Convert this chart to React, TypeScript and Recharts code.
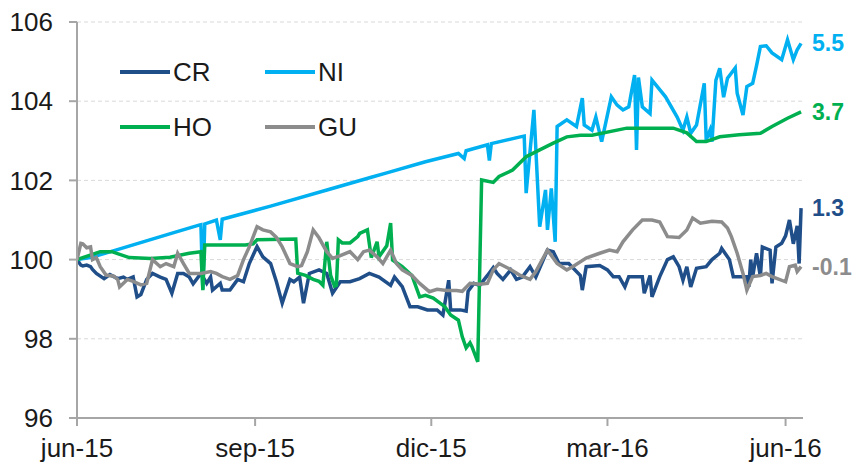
import { CartesianGrid, Legend, Line, LineChart, XAxis, YAxis } from 'recharts';

// day offsets from 1 Jun 2015
const X_TICKS = [0, 92, 183, 274, 366];
const X_TICK_LABELS = ['jun-15', 'sep-15', 'dic-15', 'mar-16', 'jun-16'];
const Y_TICKS = [96, 98, 100, 102, 104, 106];

const CR: [number, number][] = [
  [0, 100], [2, 99.86], [3, 99.84], [5, 99.86], [7, 99.82], [8, 99.75], [10, 99.65], [14, 99.52],
  [17, 99.62], [21, 99.52], [24, 99.56], [26, 99.5], [29, 99.56], [31, 99.06], [33, 99.12], [36, 99.5],
  [39, 99.65], [43, 99.56], [46, 99.5], [49, 99.15], [52, 99.65], [55, 99.65], [58, 99.56], [60, 99.39],
  [64, 99.65], [67, 99.4], [69, 99.56], [70, 99.23], [74, 99.4], [75, 99.23], [79, 99.23], [83, 99.5],
  [86, 99.44], [89, 99.9], [93, 100.33], [96, 100.07], [100, 99.9], [103, 99.44], [106, 98.9], [110, 99.5],
  [112, 99.44], [115, 99.56], [117, 98.9], [120, 99.65], [125, 99.74], [129, 99.65], [132, 99.15], [136, 99.44],
  [141, 99.44], [146, 99.52], [151, 99.65], [156, 99.56], [162, 99.35], [164, 99.56], [168, 99.32], [172, 98.81],
  [176, 98.81], [181, 98.73], [186, 98.73], [189, 98.6], [192, 99.48], [193, 98.73], [198, 98.73], [201, 98.7],
  [202, 99.2], [205, 99.4], [208, 99.35], [212, 99.6], [215, 99.8], [217, 99.65], [220, 99.5], [224, 99.74],
  [227, 99.5], [230, 99.56], [234, 99.82], [237, 99.56], [243, 100.24], [246, 100.2], [249, 99.9], [254, 99.9],
  [260, 99.6], [261, 99.23], [263, 99.82], [270, 99.85], [274, 99.74], [277, 99.57], [280, 99.57], [283, 99.31],
  [285, 99.57], [292, 99.57], [293, 99.15], [296, 99.6], [297, 99.06], [301, 99.57], [305, 100.0], [308, 100.07],
  [311, 99.82], [313, 99.48], [315, 99.82], [317, 99.31], [320, 99.78], [325, 99.82], [328, 100.0], [332, 100.16],
  [333, 100.28], [337, 100.0], [339, 99.57], [342, 99.57], [346, 99.57], [347, 99.31], [348, 100.0], [349, 99.57],
  [351, 100.16], [353, 99.57], [354, 100.32], [358, 100.24], [359, 99.4], [361, 100.32], [364, 100.41], [366, 100.6],
  [368, 101.0], [370, 100.4], [372, 100.85], [373, 99.9], [374, 101.3],
];

const NI: [number, number][] = [
  [0, 100.0], [7, 100.05], [20, 100.24], [35, 100.46], [50, 100.68], [63, 100.87], [64, 100.88], [65, 99.25],
  [66, 100.9], [72, 101.0], [74, 100.5], [75, 101.02], [100, 101.35], [130, 101.77], [152, 102.08], [160, 102.19],
  [180, 102.47], [197, 102.68], [200, 102.55], [201, 102.75], [212, 102.9], [213, 102.5], [214, 102.93], [229, 103.1],
  [231, 103.12], [232, 101.68], [236, 103.78], [239, 100.83], [242, 101.76], [243, 100.75], [245, 101.8], [247, 100.45],
  [248, 103.36], [253, 103.53], [258, 103.36], [261, 104.08], [262, 103.4], [266, 103.27], [268, 103.6], [271, 102.98],
  [276, 104.11], [279, 103.9], [282, 103.78], [285, 103.86], [288, 104.66], [289, 102.77], [290, 104.6], [292, 103.86],
  [296, 103.69], [297, 104.53], [304, 104.11], [310, 103.6], [313, 103.27], [315, 103.6], [317, 103.19], [320, 103.4],
  [324, 104.45], [325, 103.02], [327, 103.27], [328, 102.98], [330, 104.53], [332, 104.83], [334, 104.1], [336, 104.58],
  [340, 104.84], [341, 104.2], [344, 103.65], [346, 104.37], [349, 104.45], [351, 104.9], [353, 105.38], [356, 105.4],
  [359, 105.22], [364, 105.05], [367, 105.55], [370, 105.05], [372, 105.3], [374, 105.46],
];

const HO: [number, number][] = [
  [0, 100.0], [12, 100.2], [18, 100.2], [27, 100.05], [38, 100.03], [48, 100.06], [58, 100.16], [64, 100.2],
  [65, 99.23], [66, 100.37], [87, 100.37], [91, 100.4], [93, 100.5], [113, 100.52], [114, 99.66], [118, 99.6],
  [122, 99.5], [125, 99.45], [127, 99.35], [129, 100.45], [131, 99.6], [133, 99.33], [134, 99.35], [135, 100.5],
  [137, 100.42], [141, 100.42], [145, 100.58], [146, 100.66], [150, 100.75], [152, 100.05], [155, 100.45], [156, 100.07],
  [160, 100.35], [162, 100.92], [163, 99.99], [168, 99.82], [173, 99.6], [177, 99.06], [180, 99.1], [184, 99.03],
  [190, 98.81], [193, 98.6], [197, 98.47], [199, 98.05], [201, 97.77], [203, 97.9], [204, 97.8], [207, 97.42],
  [209, 102.01], [215, 101.95], [218, 102.1], [225, 102.26], [232, 102.6], [239, 102.77], [246, 102.94], [253, 103.1],
  [260, 103.14], [266, 103.14], [284, 103.32], [308, 103.32], [315, 103.2], [320, 102.98], [325, 102.98], [332, 103.1],
  [342, 103.15], [353, 103.19], [359, 103.36], [367, 103.57], [374, 103.73],
];

const GU: [number, number][] = [
  [0, 100], [2, 100.41], [3, 100.4], [5, 100.3], [7, 100.32], [8, 100.0], [10, 100.05], [12, 99.82],
  [15, 99.61], [19, 99.58], [21, 99.5], [22, 99.31], [26, 99.5], [29, 99.45], [33, 99.36], [36, 99.4],
  [39, 100.0], [43, 99.82], [46, 99.9], [50, 99.82], [52, 100.16], [55, 99.9], [58, 99.65], [64, 99.65],
  [69, 99.7], [72, 99.65], [75, 99.57], [79, 99.5], [83, 99.6], [86, 100.0], [89, 100.32], [93, 100.83],
  [96, 100.75], [100, 100.7], [103, 100.56], [106, 100.32], [110, 99.9], [114, 99.82], [116, 99.85], [119, 100.2],
  [122, 100.75], [125, 100.55], [129, 100.2], [132, 100.03], [136, 100.1], [141, 100.2], [145, 100.0], [148, 100.2],
  [151, 100.24], [155, 100.07], [158, 99.9], [162, 100.24], [165, 99.9], [168, 99.74], [173, 99.6], [177, 99.4],
  [182, 99.19], [186, 99.25], [191, 99.22], [196, 99.22], [199, 99.2], [203, 99.4], [208, 99.38], [212, 99.4],
  [215, 99.74], [218, 99.9], [224, 99.75], [229, 99.6], [234, 99.5], [237, 99.7], [243, 100.24], [248, 99.9],
  [253, 99.74], [256, 99.82], [263, 100.04], [270, 100.16], [275, 100.24], [279, 100.2], [282, 100.45], [287, 100.75],
  [292, 101.0], [297, 101.0], [301, 100.95], [305, 100.58], [311, 100.56], [315, 100.75], [318, 101.05], [322, 100.92],
  [328, 100.97], [333, 100.95], [336, 100.8], [338, 100.58], [341, 100.16], [344, 99.65], [346, 99.23], [349, 99.57],
  [353, 99.6], [356, 99.65], [359, 99.57], [366, 99.44], [368, 99.82], [371, 99.86], [372, 99.7], [374, 99.82],
];

const SERIES_NAMES = ['CR', 'NI', 'HO', 'GU'];
const END_LABELS = ['1.3', '5.5', '3.7', '-0.1'];
const COLORS = ['#1F4E89', '#00B0F0', '#00B050', '#8C8C8C'];
const SERIES_POINTS = [CR, NI, HO, GU];

const FONT = '"Liberation Sans", Arial, sans-serif';
const AXIS_GRAY = '#a6a6a6';

const toRows = (pts: [number, number][]) => pts.map(([d, v]) => ({ d, v }));

function endLabel(i: number, lastIndex: number) {
  return (props: any) => {
    if (props.index !== lastIndex) return null;
    return (
      <text
        key={`end-${i}`}
        x={props.x + 11}
        y={props.y}
        dy="0.35em"
        fill={COLORS[i]}
        fontSize={23}
        fontWeight="bold"
        fontFamily={FONT}
      >
        {END_LABELS[i]}
      </text>
    );
  };
}

function LegendGrid() {
  return (
    <div style={{ display: 'grid', gridTemplateColumns: '145px 145px', rowGap: 25, fontFamily: FONT }}>
      {[0, 1, 2, 3].map((i) => (
        <div key={SERIES_NAMES[i]} style={{ display: 'flex', alignItems: 'center', height: 30 }}>
          <span style={{ width: 50, height: 4, background: COLORS[i], marginRight: 3 }} />
          <span style={{ fontSize: 26, color: '#1a1a1a' }}>{SERIES_NAMES[i]}</span>
        </div>
      ))}
    </div>
  );
}

export default function App() {
  return (
    <div style={{ position: 'absolute', left: 0, top: 0, background: '#fff' }}>
      <LineChart width={865} height={476} margin={{ top: 22, right: 62, bottom: 8, left: 17 }}>
        <CartesianGrid vertical={false} stroke="#d9d9d9" strokeDasharray="4 3" />
        <XAxis
          type="number"
          dataKey="d"
          domain={[0, 375]}
          ticks={X_TICKS}
          tickFormatter={(v: number) => X_TICK_LABELS[X_TICKS.indexOf(v)]}
          allowDataOverflow
          height={50}
          tickSize={8}
          tickMargin={13}
          axisLine={{ stroke: AXIS_GRAY, strokeWidth: 2 }}
          tickLine={{ stroke: AXIS_GRAY, strokeWidth: 2 }}
          tick={{ fill: '#1a1a1a', fontSize: 26, fontFamily: FONT }}
        />
        <YAxis
          type="number"
          domain={[96, 106]}
          ticks={Y_TICKS}
          width={60}
          tickSize={8}
          tickMargin={16}
          axisLine={{ stroke: AXIS_GRAY, strokeWidth: 2 }}
          tickLine={{ stroke: AXIS_GRAY, strokeWidth: 2 }}
          tick={{ fill: '#1a1a1a', fontSize: 26, fontFamily: FONT }}
        />
        <Legend
          layout="vertical"
          verticalAlign="middle"
          align="center"
          content={() => <LegendGrid />}
          wrapperStyle={{ left: 120, top: 57, width: 300, height: 90 }}
        />
        {SERIES_POINTS.map((pts, i) => (
          <Line
            key={SERIES_NAMES[i]}
            name={SERIES_NAMES[i]}
            data={toRows(pts)}
            dataKey="v"
            type="linear"
            stroke={COLORS[i]}
            strokeWidth={3.5}
            dot={false}
            activeDot={false}
            label={endLabel(i, pts.length - 1)}
            isAnimationActive={false}
          />
        ))}
      </LineChart>
    </div>
  );
}
